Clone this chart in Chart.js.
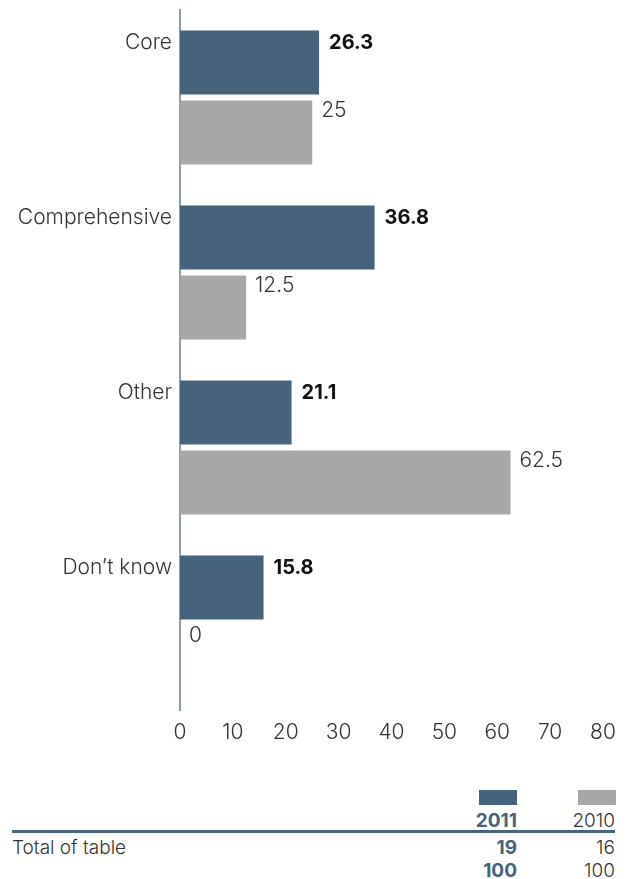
<!DOCTYPE html>
<html>
<head>
<meta charset="utf-8">
<script src="https://cdn.jsdelivr.net/npm/chart.js@4"></script>
<style>
  html, body { margin: 0; padding: 0; background: #fff; }
  body { width: 630px; height: 879px; position: relative; overflow: hidden; font-family: Inter, sans-serif; color: #333; }
  #wrap { position: absolute; left: 0; top: 0; width: 630px; height: 760px; }
  .sw { position: absolute; height: 15px; width: 38px; }
  .t { position: absolute; font-size: 19px; font-weight: 300; line-height: 22px; }
  .b { font-weight: 700; color: #46637d; }
  .r { text-align: right; }
  #rule { position: absolute; left: 12px; top: 830px; width: 603px; height: 3px; background: #46637d; }
</style>
</head>
<body>
<div id="wrap"><canvas id="c" width="630" height="760"></canvas></div>
<div class="sw" style="left:479px; top:790px; background:#46637d;"></div>
<div class="sw" style="left:578px; top:790px; background:#a6a7a9;"></div>
<div class="t r b" id="h2011" style="left:440px; width:77px; top:810px;"></div>
<div class="t r" id="h2010" style="left:540px; width:75px; top:810px;"></div>
<div id="rule"></div>
<div class="t" id="rowLabel" style="left:12px; top:837px;"></div>
<div class="t r b" id="n2011" style="left:440px; width:77px; top:837px;"></div>
<div class="t r" id="n2010" style="left:540px; width:75px; top:837px;"></div>
<div class="t r b" id="p2011" style="left:440px; width:77px; top:860px;"></div>
<div class="t r" id="p2010" style="left:540px; width:75px; top:860px;"></div>
<script>
const categories = ["Core", "Comprehensive", "Other", "Don\u2019t know"];
const seriesNames = ["2011", "2010"];
const values2011 = [26.3, 36.8, 21.1, 15.8];
const values2010 = [25, 12.5, 62.5, 0];
const xTicks = [0, 10, 20, 30, 40, 50, 60, 70, 80];
const tableRowLabel = "Total of table";
const totals = [19, 16];
const percentTotals = [100, 100];

document.getElementById('h2011').textContent = seriesNames[0];
document.getElementById('h2010').textContent = seriesNames[1];
document.getElementById('rowLabel').textContent = tableRowLabel;
document.getElementById('n2011').textContent = totals[0];
document.getElementById('n2010').textContent = totals[1];
document.getElementById('p2011').textContent = percentTotals[0];
document.getElementById('p2010').textContent = percentTotals[1];

const FONT = 'Inter, sans-serif';

const valueLabels = {
  id: 'valueLabels',
  afterDatasetsDraw(chart) {
    const ctx = chart.ctx;
    ctx.save();
    ctx.textBaseline = 'middle';
    ctx.textAlign = 'left';
    chart.data.datasets.forEach((ds, di) => {
      const meta = chart.getDatasetMeta(di);
      meta.data.forEach((bar, i) => {
        const top = bar.y - bar.height / 2;
        if (di === 0) {
          ctx.font = '700 20px ' + FONT;
          ctx.fillStyle = '#111';
          ctx.fillText(String(ds.data[i]), bar.x + 10, top + 12);
        } else {
          ctx.font = '300 21px ' + FONT;
          ctx.fillStyle = '#333';
          ctx.fillText(String(ds.data[i]), bar.x + 9, top + 10);
        }
      });
    });
    ctx.restore();
  }
};

new Chart(document.getElementById('c'), {
  type: 'bar',
  data: {
    labels: categories,
    datasets: [
      { label: seriesNames[0], data: values2011, backgroundColor: '#46637d', categoryPercentage: 0.8, barPercentage: 0.914 },
      { label: seriesNames[1], data: values2010, backgroundColor: '#a6a7a9', categoryPercentage: 0.8, barPercentage: 0.914 }
    ]
  },
  options: {
    indexAxis: 'y',
    responsive: false,
    animation: false,
    devicePixelRatio: 1,
    layout: { padding: { left: 0, right: 27, top: 10, bottom: 0 } },
    plugins: { legend: { display: false }, tooltip: { enabled: false } },
    scales: {
      x: {
        min: 0, max: 80,
        afterBuildTicks(scale) { scale.ticks = xTicks.map(v => ({ value: v })); },
        afterFit(scale) { scale.height = 50; scale.paddingLeft = 0; scale.paddingRight = 0; },
        grid: { display: false, drawTicks: false },
        border: { display: false },
        ticks: { padding: 10, color: '#333', font: { family: FONT, size: 21, weight: 300 } }
      },
      y: {
        afterFit(scale) { scale.width = 180; scale.paddingTop = 0; scale.paddingBottom = 0; },
        grid: { display: false, drawTicks: false },
        border: { display: true, color: '#8c9db0', width: 2 },
        ticks: { padding: 8, labelOffset: -55, color: '#333', font: { family: FONT, size: 21, weight: 300 } }
      }
    }
  },
  plugins: [valueLabels]
});
</script>
</body>
</html>
